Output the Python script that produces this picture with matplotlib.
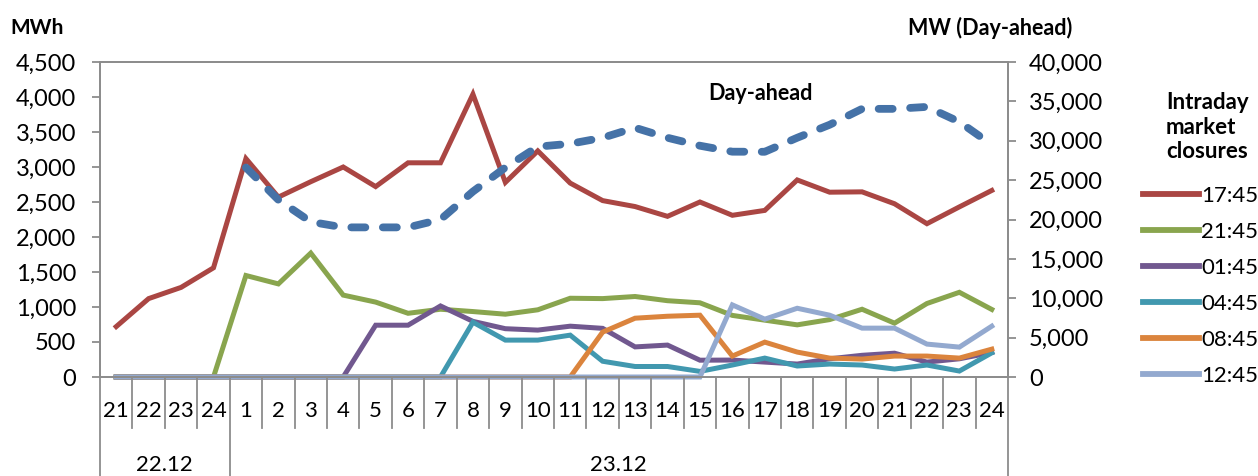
import numpy as np
import matplotlib.pyplot as plt
from matplotlib.ticker import FuncFormatter

plt.rcParams['font.family'] = ['Lato', 'DejaVu Sans']

# hours on the x axis: 21-24 of 22.12, then 1-24 of 23.12
hours = ['21', '22', '23', '24'] + [str(h) for h in range(1, 25)]
days = ['22.12', '23.12']

# intraday market closures, MWh (left axis)
close_1745 = [720, 1120, 1280, 1560, 3120, 2570, 2790, 3000, 2720, 3060, 3060, 4040, 2780, 3230,
              2770, 2520, 2435, 2295, 2500, 2310, 2380, 2815, 2640, 2645, 2475, 2190, 2430, 2665]
close_2145 = [0, 0, 0, 0, 1450, 1330, 1770, 1170, 1070, 910, 968, 935, 897, 960,
              1125, 1120, 1150, 1090, 1060, 880, 812, 745, 820, 968, 769, 1050, 1210, 965]
close_0145 = [0, 0, 0, 0, 0, 0, 0, 0, 740, 740, 1015, 795, 690, 670,
              726, 695, 430, 456, 240, 242, 213, 185, 260, 310, 340, 213, 260, 350]
close_0445 = [0, 0, 0, 0, 0, 0, 0, 0, 0, 0, 0, 783, 527, 527,
              598, 225, 150, 150, 80, 171, 270, 157, 185, 171, 114, 171, 85, 345]
close_0845 = [0, 0, 0, 0, 0, 0, 0, 0, 0, 0, 0, 0, 0, 0,
              0, 641, 840, 868, 883, 299, 498, 356, 270, 256, 299, 299, 270, 398]
close_1245 = [0, 0, 0, 0, 0, 0, 0, 0, 0, 0, 0, 0, 0, 0,
              0, 0, 0, 0, 0, 1030, 826, 982, 883, 698, 698, 470, 427, 726]

# day-ahead, MW (right axis), starts at hour 1 of 23.12
day_ahead = [np.nan] * 4 + [26600, 22500, 19700, 19000, 19000, 19000, 20000, 23550, 26600, 29250,
                            29620, 30380, 31650, 30380, 29370, 28610, 28600, 30380, 32030, 34050,
                            34050, 34300, 32400, 29500]

intraday = {'17:45': close_1745, '21:45': close_2145, '01:45': close_0145,
            '04:45': close_0445, '08:45': close_0845, '12:45': close_1245}
colors = ['#AA4643', '#89A54E', '#71588F', '#4198AF', '#DB843D', '#93A9CF']

W, H = 1258, 476
fig = plt.figure(figsize=(W / 100, H / 100), dpi=100)
ax = fig.add_axes([100 / W, (H - 377) / H, 908 / W, 315 / H])
x = np.arange(len(hours))

handles = []
for (name, vals), c in zip(intraday.items(), colors):
    ln, = ax.plot(x, vals, color=c, lw=3.6, solid_joinstyle='miter', label=name, clip_on=False)
    handles.append(ln)

ax.set_xlim(-0.5, len(hours) - 0.5)
ax.set_ylim(0, 4500)
ax.set_yticks(np.arange(0, 4501, 500))
ax.yaxis.set_major_formatter(FuncFormatter(lambda v, p: f'{int(v):,}'))

ax2 = ax.twinx()
ax2.plot(x, day_ahead, color='#4572A7', lw=5.6, dashes=(1.8, 2.25), dash_capstyle='round')
ax2.set_ylim(0, 40000)
ax2.set_yticks(np.arange(0, 40001, 5000))
ax2.yaxis.set_major_formatter(FuncFormatter(lambda v, p: f'{int(v):,}'))

gray = '#8C8C8C'
for a in (ax, ax2):
    for s in a.spines.values():
        s.set_color(gray)
        s.set_linewidth(1.3)
ax.tick_params(axis='y', direction='out', length=6, width=1.3, color=gray, labelsize=17, pad=11)
ax2.tick_params(axis='y', direction='out', length=6, width=1.3, color=gray, labelsize=17, pad=9)

# category axis: hour labels, separators, day groups
ax.set_xticks(x)
ax.set_xticklabels([])
ax.tick_params(axis='x', length=0)
tr = ax.get_xaxis_transform()
for i, h in enumerate(hours):
    ax.text(i, -0.108, h, transform=tr, ha='center', va='center', fontsize=16)
for k in range(1, len(hours)):
    bottom = -0.314 if k == 4 else -0.162
    ax.plot([k - 0.5, k - 0.5], [0, bottom], transform=tr, color=gray, lw=1.3, clip_on=False)
for edge in (-0.5, len(hours) - 0.5):
    ax.plot([edge, edge], [0, -0.314], transform=tr, color=gray, lw=1.3, clip_on=False)
ax.text(1.5, -0.279, days[0], transform=tr, ha='center', va='center', fontsize=16)
ax.text(15.5, -0.279, days[1], transform=tr, ha='center', va='center', fontsize=16)

fig.text(10 / W, 1 - 28 / H, 'MWh', fontsize=15, fontweight='bold', va='center', ha='left')
fig.text(990 / W, 1 - 28 / H, 'MW (Day-ahead)', fontsize=15.5, fontweight='bold', va='center', ha='center')
fig.text(760 / W, 1 - 93 / H, 'Day-ahead', fontsize=15.5, fontweight='bold', va='center', ha='center')
fig.text(1166 / W, 1 - 127 / H, 'Intraday\nmarket\nclosures', fontsize=16, fontweight='bold',
         va='center', ha='left', multialignment='left', linespacing=1.22)

leg = fig.legend(handles=handles, loc='upper left', bbox_to_anchor=(1143 / W, 1 - 186 / H),
                 frameon=False, fontsize=16, handlelength=2.5, handletextpad=0.12,
                 labelspacing=0.72, borderpad=0, borderaxespad=0)
for h in leg.legend_handles:
    h.set_linewidth(4.2)

fig.savefig('out.png', dpi=100)
